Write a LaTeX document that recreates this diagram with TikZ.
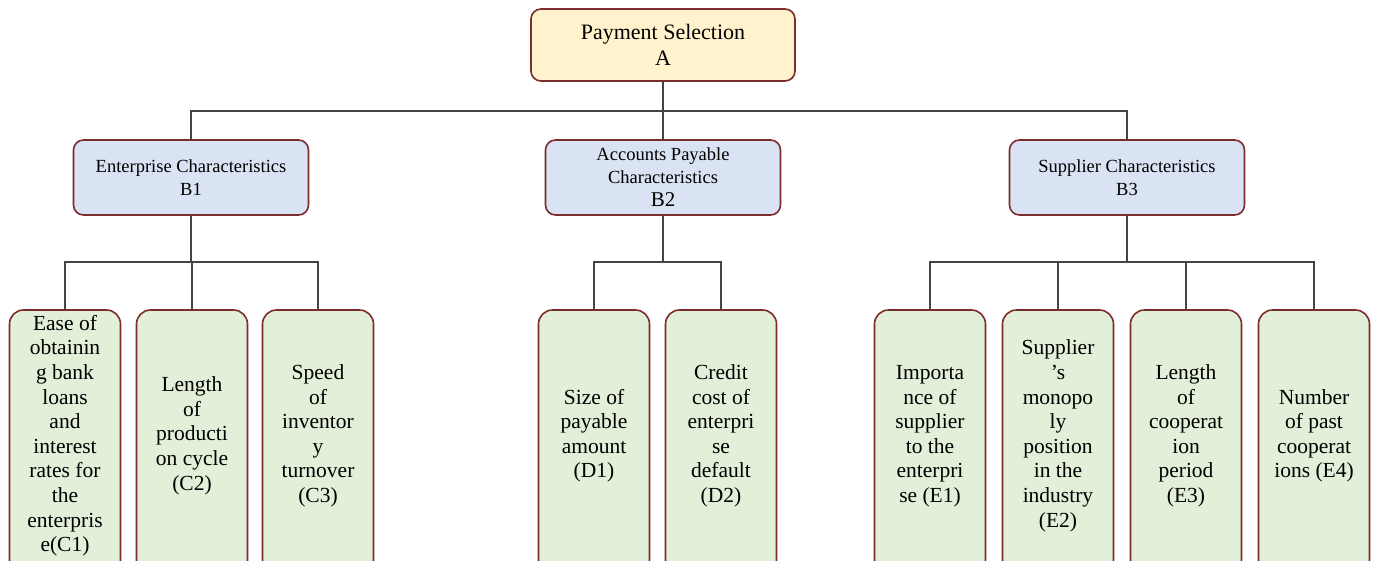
\documentclass[tikz,border=0pt]{standalone}
\usepackage{fontspec}
\setmainfont{Liberation Serif}
\definecolor{bordc}{HTML}{7B2C2C}
\definecolor{linec}{HTML}{444444}
\definecolor{topfill}{HTML}{FFF2CC}
\definecolor{midfill}{HTML}{DAE3F3}
\definecolor{leaffill}{HTML}{E2EFD9}
\newcommand{\leafcontent}[1]{\raisebox{9pt}[\height][\depth]{\begin{tabular}{@{}c@{}}#1\end{tabular}}}
\tikzset{
  topbox/.style={draw=bordc, line width=1.6pt, fill=topfill, rounded corners=10pt,
    minimum width=264pt, minimum height=72pt, align=center, inner sep=0pt,
    font=\fontsize{22}{26}\selectfont},
  midbox/.style={draw=bordc, line width=1.6pt, fill=midfill, rounded corners=10pt,
    minimum width=235pt, minimum height=75pt, align=center, inner sep=0pt,
    font=\fontsize{18.5}{22.5}\selectfont},
  leafbox/.style={draw=bordc, line width=1.6pt, fill=leaffill, rounded corners=14pt,
    minimum width=111pt, minimum height=270pt, inner sep=0pt,
    font=\fontsize{21.5}{24.6}\selectfont},
  conn/.style={draw=linec, line width=1.8pt}
}
\begin{document}
\begin{tikzpicture}[x=1pt,y=-1pt]
\useasboundingbox (0,0) rectangle (1377,560);
\clip (0,0) rectangle (1377,560);
\fill[white] (0,0) rectangle (1377,560);

\node[topbox] (A) at (663,45) {Payment Selection\\A};

\node[midbox] (B1) at (191,177.5) {Enterprise Characteristics\\B1};
\node[midbox] (B2) at (663,177.5) {Accounts Payable\\Characteristics\\[1pt]{\fontsize{21}{22}\selectfont B2}};
\node[midbox] (B3) at (1127,177.5) {Supplier Characteristics\\B3};

\node[leafbox] (C1) at (65,445) {\leafcontent{Ease of\\obtainin\\g bank\\loans\\and\\interest\\rates for\\the\\enterpris\\e(C1)}};
\node[leafbox] (C2) at (192,445) {\leafcontent{Length\\of\\producti\\on cycle\\(C2)}};
\node[leafbox] (C3) at (318,445) {\leafcontent{Speed\\of\\inventor\\y\\turnover\\(C3)}};

\node[leafbox] (D1) at (594,445) {\leafcontent{Size of\\payable\\amount\\(D1)}};
\node[leafbox] (D2) at (721,445) {\leafcontent{Credit\\cost of\\enterpri\\se\\default\\(D2)}};

\node[leafbox] (E1) at (930,445) {\leafcontent{Importa\\nce of\\supplier\\to the\\enterpri\\se (E1)}};
\node[leafbox] (E2) at (1058,445) {\leafcontent{Supplier\\'s\\monopo\\ly\\position\\in the\\industry\\(E2)}};
\node[leafbox] (E3) at (1186,445) {\leafcontent{Length\\of\\cooperat\\ion\\period\\(E3)}};
\node[leafbox] (E4) at (1314,445) {\leafcontent{Number\\of past\\cooperat\\ions (E4)}};

\coordinate (busA) at (663,111);
\draw[conn] (A.south) -- (busA);
\draw[conn] (B1.north) -- (B1.north |- busA) -- (B3.north |- busA) -- (B3.north);
\draw[conn] (busA) -- (B2.north);

\draw[conn] (B1.south) -- (B1.south |- 0,262);
\draw[conn] (C1.north) -- (C1.north |- 0,262) -- (C3.north |- 0,262) -- (C3.north);
\draw[conn] (C2.north) -- (C2.north |- 0,262);

\draw[conn] (B2.south) -- (B2.south |- 0,262);
\draw[conn] (D1.north) -- (D1.north |- 0,262) -- (D2.north |- 0,262) -- (D2.north);

\draw[conn] (B3.south) -- (B3.south |- 0,262);
\draw[conn] (E1.north) -- (E1.north |- 0,262) -- (E4.north |- 0,262) -- (E4.north);
\draw[conn] (E2.north) -- (E2.north |- 0,262);
\draw[conn] (E3.north) -- (E3.north |- 0,262);
\end{tikzpicture}
\end{document}
